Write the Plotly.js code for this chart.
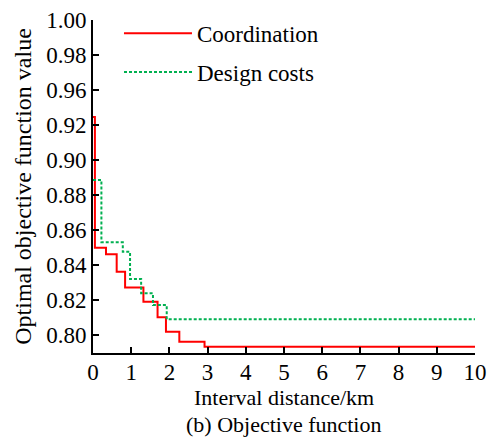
<!DOCTYPE html>
<html>
<head>
<meta charset="utf-8">
<script src="https://cdn.plot.ly/plotly-3.0.1.min.js"></script>
<style>
  html, body { margin: 0; padding: 0; background: #fff; }
  #chart { width: 492px; height: 439px; }
</style>
</head>
<body>
<div id="chart"></div>
<script>
// Step curves of the optimal objective value versus interval distance
const coordX = [0, 0.05, 0.34, 0.62, 0.84, 1.32, 1.69, 1.91, 2.26, 2.92, 10];
const coordY = [0.9246, 0.8499, 0.8461, 0.8362, 0.8272, 0.8190, 0.8101, 0.8019, 0.7962, 0.7933, 0.7933];

const costX = [0, 0.22, 0.78, 0.97, 1.26, 1.57, 1.93, 10];
const costY = [0.8886, 0.8530, 0.8476, 0.8320, 0.8238, 0.8171, 0.8090, 0.8090];

const xTicks = [0, 1, 2, 3, 4, 5, 6, 7, 8, 9, 10];
// y tick positions and their printed labels (the printed scale skips 0.94)
const yTickVals = [0.80, 0.82, 0.84, 0.86, 0.88, 0.90, 0.92, 0.94, 0.96, 0.98];
const yTickText = ['0.80', '0.82', '0.84', '0.86', '0.88', '0.90', '0.92', '0.96', '0.98', '1.00'];

const FONT = 'Liberation Serif, Times New Roman, serif';
const FS = 22;

const traces = [
  {
    x: coordX, y: coordY, type: 'scatter', mode: 'lines',
    name: 'Coordination', legendgroup: 'a',
    line: { shape: 'hv', color: '#ff0000', width: 2 }
  },
  {
    x: costX, y: costY, type: 'scatter', mode: 'lines',
    name: 'Design costs', legendgroup: 'b',
    line: { shape: 'hv', color: '#00b050', width: 2, dash: '3px,2px' }
  }
];

const layout = {
  width: 492, height: 439,
  margin: { l: 93, r: 17, t: 20, b: 86 },
  paper_bgcolor: '#fff', plot_bgcolor: '#fff',
  font: { family: FONT, size: FS, color: '#000' },
  showlegend: true,
  legend: {
    x: 0.068, y: 1.025, xanchor: 'left', yanchor: 'top',
    bgcolor: 'rgba(0,0,0,0)', tracegroupgap: 6,
    itemwidth: 68,
    font: { family: FONT, size: 23, color: '#000' }
  },
  xaxis: {
    range: [0, 10], tickvals: xTicks, ticktext: xTicks.map(String),
    showgrid: false, zeroline: false,
    showline: true, linecolor: '#000', linewidth: 2,
    ticks: 'inside', ticklen: 6, tickwidth: 2, tickcolor: '#000',
    tickfont: { family: FONT, size: 23 }, ticklabelstandoff: -3
  },
  yaxis: {
    range: [0.7897, 0.98], tickvals: yTickVals, ticktext: yTickText,
    showgrid: false, zeroline: false,
    showline: true, linecolor: '#000', linewidth: 2,
    ticks: 'inside', ticklen: 6, tickwidth: 2, tickcolor: '#000',
    tickfont: { family: FONT, size: 23 },
    title: { text: 'Optimal objective function value', font: { family: FONT, size: 24 }, standoff: 8 }
  },
  annotations: [
    {
      // x-axis title, placed just under the tick labels
      text: 'Interval distance/km', xref: 'paper', yref: 'paper',
      x: 0.5, y: -0.135, xanchor: 'center', yanchor: 'middle',
      showarrow: false, font: { family: FONT, size: FS, color: '#000' }
    },
    {
      text: '(b) Objective function', xref: 'paper', yref: 'paper',
      x: 0.5, y: -0.216, xanchor: 'center', yanchor: 'middle',
      showarrow: false, font: { family: FONT, size: FS, color: '#000' }
    }
  ]
};

Plotly.newPlot('chart', traces, layout, { displayModeBar: false, staticPlot: true });
</script>
</body>
</html>
